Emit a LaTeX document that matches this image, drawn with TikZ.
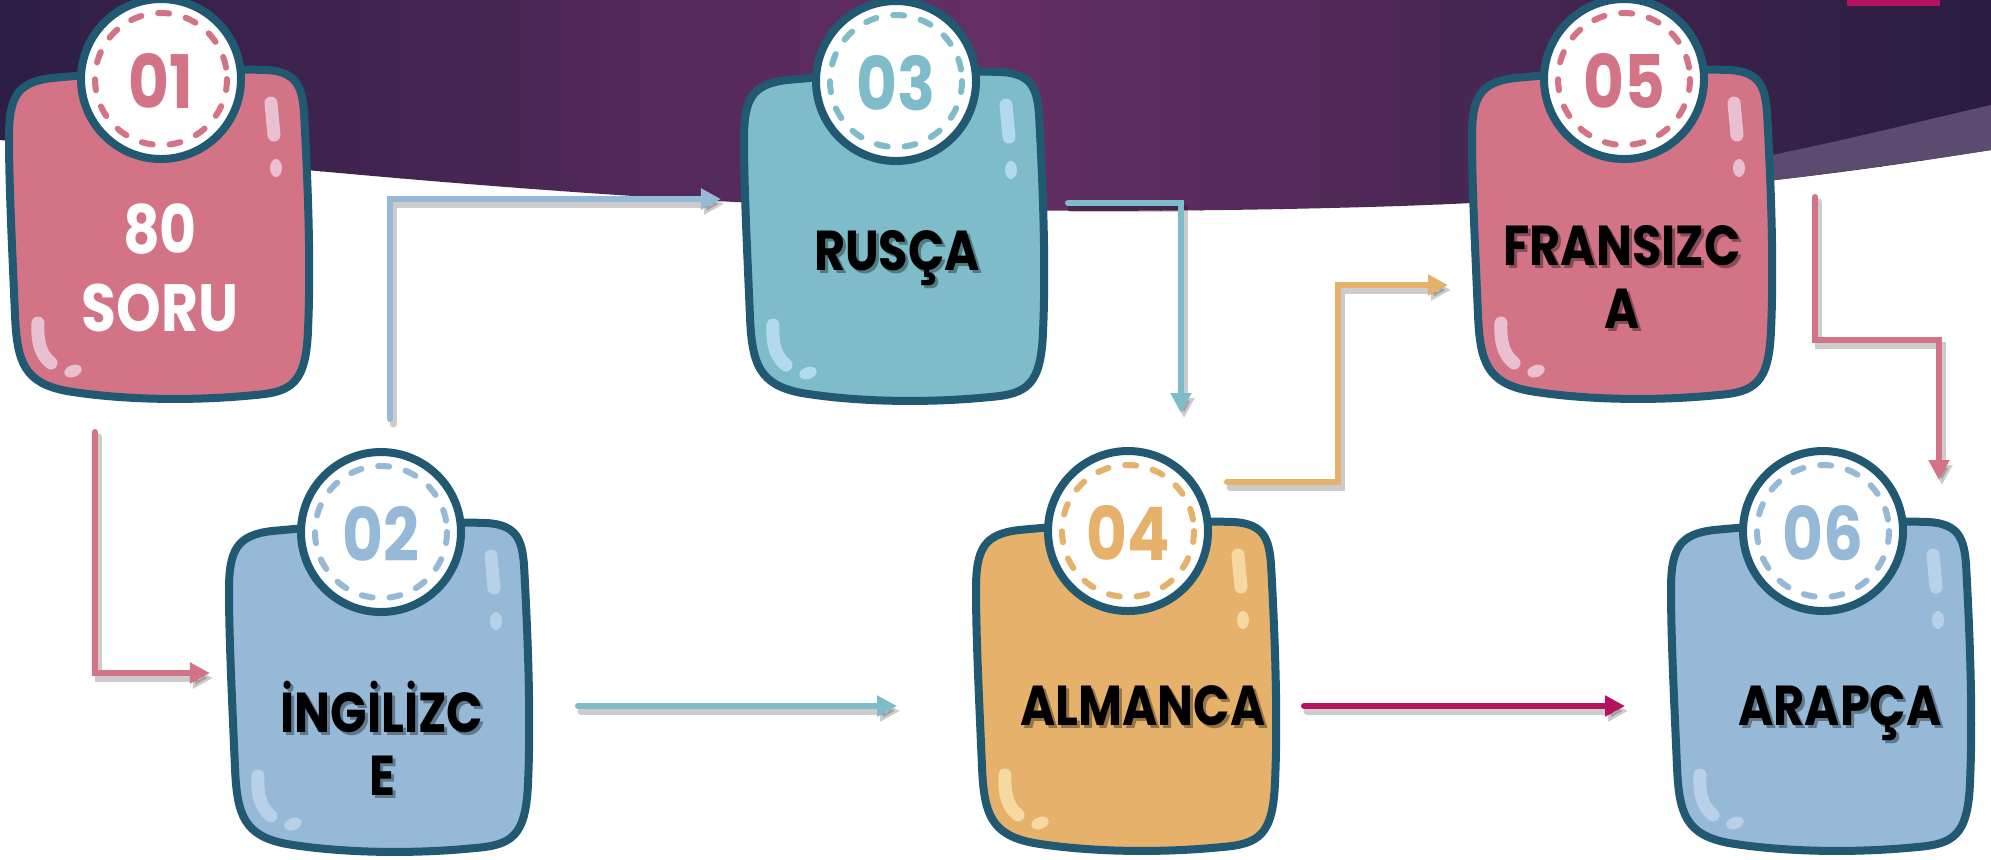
\documentclass[tikz,border=0pt]{standalone}
\usepackage{fontspec}
\setmainfont{Poppins}
\newfontfamily\condfont{Poppins}[FakeStretch=0.85]
\usetikzlibrary{arrows.meta}
\definecolor{outline}{HTML}{215872}
\definecolor{cpink}{HTML}{D37386}
\definecolor{cpinkL}{HTML}{E8C0D0}
\definecolor{cblue}{HTML}{95B9D6}
\definecolor{cblueL}{HTML}{B8D0E8}
\definecolor{cteal}{HTML}{7EBCC9}
\definecolor{ctealL}{HTML}{B3DAEC}
\definecolor{corange}{HTML}{E6B16A}
\definecolor{corangeL}{HTML}{F5D9A0}
\definecolor{cmagenta}{HTML}{B5135F}
\definecolor{bgL}{HTML}{2C1E44}
\definecolor{bgM}{HTML}{652F63}
\definecolor{bgR}{HTML}{291D41}
\definecolor{bgband}{HTML}{5B4C6F}
\tikzset{
  cardbody/.style={draw=outline, line width=0.08cm, line join=round},
  badge/.style={draw=outline, fill=white, line width=0.08cm},
  badgedash/.style={line width=0.06cm, dash pattern=on 0.11cm off 0.17cm, line cap=round},
  shine/.style={line width=0.13cm, line cap=round},
  numtext/.style={font=\condfont\bfseries\fontsize{21}{21}\selectfont, inner sep=0pt},
  labeltext/.style={font=\condfont\bfseries\fontsize{16}{18}\selectfont, inner sep=0pt, align=center},
  flowline/.style={line width=0.06cm, line cap=round, -{Triangle[length=0.2cm,width=0.2cm]}},
  flowshadow/.style={line width=0.07cm, line cap=round, draw=black, opacity=0.2,
     -{Triangle[length=0.2cm,width=0.2cm]}, transform canvas={shift={(0.03cm,-0.05cm)}}},
}
\newcommand\cardpath{(4,72) .. controls (4,32) and (12,17) .. (47,13) .. controls (120,6) and (200,3) .. (262,5) .. controls (292,7) and (297,22) .. (299,47) .. controls (303,120) and (306,200) .. (303,265) .. controls (301,318) and (287,327) .. (250,330) .. controls (180,337) and (110,334) .. (62,326) .. controls (19,318) and (12,297) .. (10,250) .. controls (7,180) and (4,120) .. (4,72) -- cycle}
\newcommand\bandpath{(0,0) -- (1991,0) -- (1991,150) .. controls (1850,172) and (1700,195) .. (1400,206)
  .. controls (1150,214) and (900,212) .. (700,200)
  .. controls (450,186) and (200,160) .. (0,140) -- cycle}
\newcommand\drawcard[5]{%
  \begin{scope}[shift={(#1,#2)}]
    \path[cardbody, fill=#3] \cardpath;
    \draw[shine, #4] (266,38) -- (269,70);
    \fill[#4] (271,103) ellipse [x radius=6, y radius=9];
    \draw[shine, #4] (33,258) .. controls (32,278) and (36,290) .. (46,298);
    \fill[#4, rotate around={20:(68,306)}] (68,306) ellipse [x radius=9, y radius=6];
    \draw[badge] (156,14) circle [radius=80];
    \draw[badgedash, draw=#3] (156,14) circle [radius=66];
    \node[numtext, text=#3] (n#5) at (156,16) {#5};
  \end{scope}}
\newcommand\shtext[4]{%
  \node[#3, text=black, opacity=0.35, xshift=0.03cm, yshift=-0.03cm] (#1s) at #2 {#4};
  \node[#3] (#1) at #2 {#4};}
\newcommand\flow[2]{%
  \draw[flowshadow] #2;
  \draw[flowline, draw=#1] #2;}
\begin{document}
\begin{tikzpicture}[x=0.01cm, y=-0.01cm]
\useasboundingbox (0,0) rectangle (1991,859);
\clip (0,0) rectangle (1991,859);
\fill[white] (0,0) rectangle (1991,859);
% background band with horizontal gradient
\begin{scope}
  \clip \bandpath;
  \foreach \i in {0,...,24} {
    \pgfmathtruncatemacro\p{(\i*40+20)/10}
    \colorlet{stripc}{bgM!\p!bgL}
    \fill[stripc] (\i*40,0) rectangle (\i*40+42,230);
  }
  \foreach \i in {25,...,49} {
    \pgfmathtruncatemacro\p{max(0,(1991-\i*40-20)/9.91)}
    \colorlet{stripc}{bgM!\p!bgR}
    \fill[stripc] (\i*40,0) rectangle (\i*40+42,230);
  }
\end{scope}
\fill[bgband] (1480,205) .. controls (1650,199) and (1850,172) .. (1991,150) -- (1991,105)
  .. controls (1880,130) and (1760,165) .. (1480,205) -- cycle;
\fill[cmagenta] (1847,0) rectangle (1940,6);
% connector end points
\coordinate (s12) at (95,432);   \coordinate (e12) at (210,673);
\coordinate (s23) at (390,419);  \coordinate (e23) at (721,199);
\coordinate (s34) at (1068,203); \coordinate (e34) at (1181,413);
\coordinate (s45) at (1227,482); \coordinate (k45) at (1338,285); \coordinate (e45) at (1448,285);
\coordinate (s56) at (1815,197); \coordinate (k56) at (1939,340); \coordinate (e56) at (1939,480);
\coordinate (s24) at (578,706);  \coordinate (e24) at (897,706);
\coordinate (s46) at (1304,706); \coordinate (e46) at (1625,706);
% connectors
\flow{cpink}{(s12) |- (e12)}
\flow{cblue}{(s23) |- (e23)}
\flow{cteal}{(s34) -| (e34)}
\flow{corange}{(s45) -| (k45) -- (e45)}
\flow{cpink}{(s56) |- (k56) -- (e56)}
\flow{cteal}{(s24) -- (e24)}
\flow{cmagenta}{(s46) -- (e46)}
% cards
\drawcard{5}{65}{cpink}{cpinkL}{01}
\drawcard{225}{518}{cblue}{cblueL}{02}
\drawcard{740}{67}{cteal}{ctealL}{03}
\drawcard{972}{517}{corange}{corangeL}{04}
\drawcard{1468}{65}{cpink}{cpinkL}{05}
\drawcard{1667}{517}{cblue}{cblueL}{06}
% labels
\node[labeltext, text=white, font=\condfont\bfseries\fontsize{19}{22}\selectfont] (l1) at (160,268) {80\\SORU};
\shtext{l2}{(382,738)}{labeltext}{İNGİLİZC\\E}
\shtext{l3}{(897,270)}{labeltext, anchor=base}{RUSÇA}
\shtext{l4}{(1143,725)}{labeltext, anchor=base}{ALMANCA}
\shtext{l5}{(1622,277)}{labeltext}{FRANSIZC\\A}
\shtext{l6}{(1840,725)}{labeltext, anchor=base}{ARAPÇA}
\end{tikzpicture}
\end{document}
